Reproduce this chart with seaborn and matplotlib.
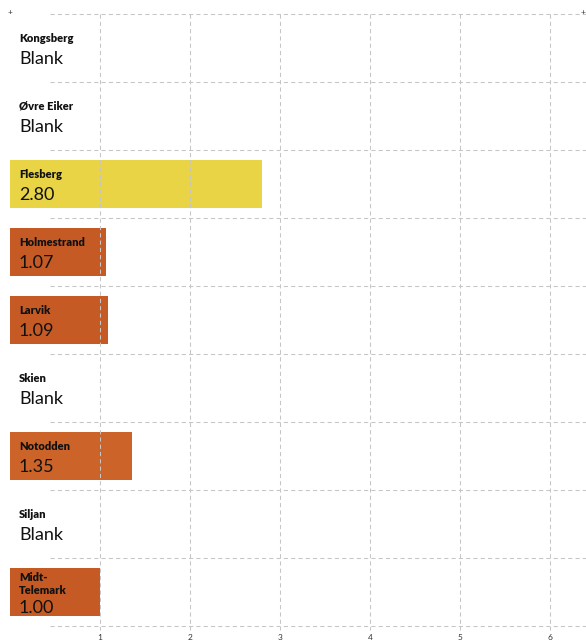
import numpy as np
import pandas as pd
import matplotlib
matplotlib.use("Agg")
import matplotlib.pyplot as plt
import seaborn as sns

# Data
kommuner = ["Kongsberg", "Øvre Eiker", "Flesberg", "Holmestrand", "Larvik",
            "Skien", "Notodden", "Siljan", "Midt-\nTelemark"]
verdier = [np.nan, np.nan, 2.80, 1.07, 1.09, np.nan, 1.35, np.nan, 1.00]
farger = ["#C55A24", "#C55A24", "#E8D444", "#C55A24", "#C55A24",
          "#C55A24", "#CC6329", "#C55A24", "#C55A24"]
x_ticks = [1, 2, 3, 4, 5, 6]

df = pd.DataFrame({"kommune": kommuner, "verdi": verdier})

sns.set_theme(style="white")
plt.rcParams["font.family"] = ["Lato", "DejaVu Sans"]

W, H = 586, 641
fig = plt.figure(figsize=(W / 100, H / 100), dpi=100)
# axes: x from px 10 to 586, y from px 14 to 626
ax = fig.add_axes([10 / W, (H - 626) / H, 576 / W, 612 / H])

sns.barplot(data=df, y="kommune", x="verdi", hue="kommune",
            palette=dict(zip(kommuner, farger)), orient="h",
            width=0.71, legend=False, ax=ax, saturation=1, zorder=1,
            linewidth=0)

n = len(kommuner)
ax.set_xlim(0, 576 / 90)
ax.set_ylim(n - 0.5, -0.5)
for s in ax.spines.values():
    s.set_visible(False)
ax.set_xlabel("")
ax.set_ylabel("")
ax.set_yticks([])
ax.set_xticks([])

grid_kw = dict(color="#C6C6C6", linestyle=(0, (4, 3)), linewidth=0.75)
# horizontal gridlines between rows
for yb in np.arange(-0.5, n, 1.0):
    ax.plot([40 / 90, 576 / 90], [yb, yb], zorder=0, clip_on=False, **grid_kw)
# vertical gridlines drawn over the bars
for xt in x_ticks:
    ax.plot([xt, xt], [-0.5, n - 0.5 + 0.06], zorder=3, clip_on=False, **grid_kw)
    ax.text(xt, n - 0.5 + 0.17, str(xt), ha="center", va="center",
            fontsize=6, color="#333333")

# labels inside the rows
px = 1 / 68
for i, (navn, v) in enumerate(zip(kommuner, verdier)):
    linjer = navn.count("\n") + 1
    verdi_y = i + (16 + 5 * (linjer - 1)) * px
    navn_gap = 22 if linjer == 1 else 19
    tekst = "Blank" if np.isnan(v) else f"{v:.2f}"
    ax.text(9 / 90, verdi_y, tekst, ha="left", va="baseline",
            fontsize=13, color="#111111", zorder=4)
    ax.text(9 / 90, verdi_y - navn_gap * px, navn, ha="left", va="baseline",
            fontsize=8, fontweight="heavy", color="#111111",
            linespacing=1.25, zorder=4)

# small corner marks
fig.text(10 / W, 1 - 12 / H, "+", ha="center", va="center", fontsize=6, color="#333333")
fig.text(583 / W, 1 - 12 / H, "+", ha="center", va="center", fontsize=6, color="#333333")

fig.savefig("out.png", dpi=100)
